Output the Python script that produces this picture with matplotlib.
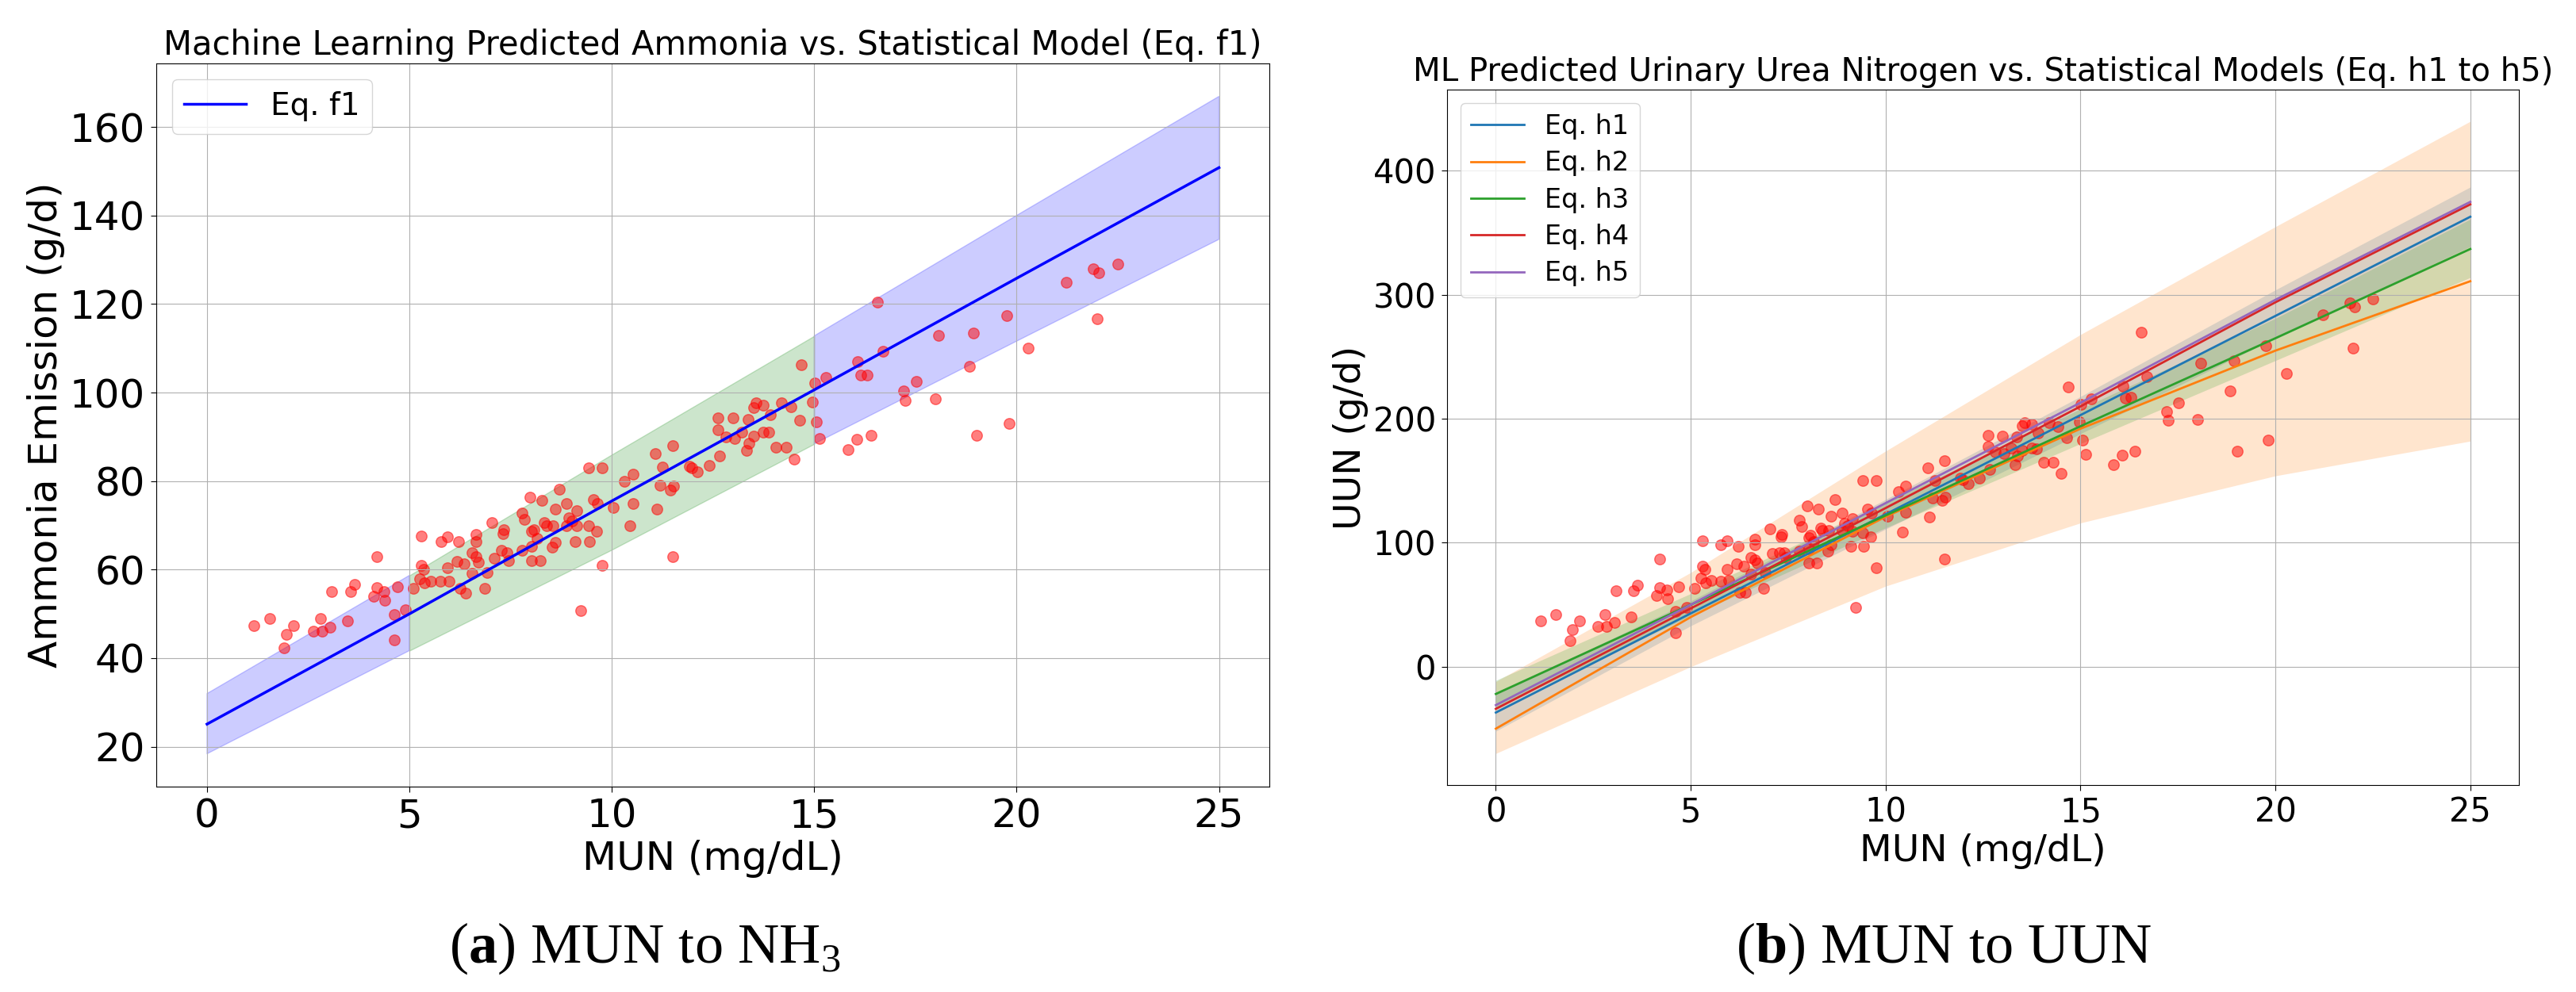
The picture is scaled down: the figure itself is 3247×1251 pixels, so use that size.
import numpy as np
import matplotlib
matplotlib.use('Agg')
import matplotlib.pyplot as plt

plt.rcParams['mathtext.fontset'] = 'custom'
plt.rcParams['mathtext.rm'] = 'Liberation Serif'
plt.rcParams['mathtext.bf'] = 'Liberation Serif:bold'

# MUN values of the samples (mg/dL), shared by both panels
mun = [1.16, 1.54, 1.96, 1.9, 2.14, 2.62, 2.8, 2.84, 3.04, 3.08,
       3.48, 3.54, 3.64, 4.12, 4.2, 4.2, 4.38, 4.4, 4.62, 4.62,
       4.7, 4.9, 5.1, 5.3, 5.3, 5.36, 5.26, 5.38, 5.52, 5.76,
       5.78, 5.94, 5.94, 5.98, 6.18, 6.22, 6.26, 6.36, 6.4, 6.54,
       6.54, 6.64, 6.64, 6.64, 6.7, 6.86, 6.92, 7.04, 7.1, 7.28,
       7.32, 7.34, 7.4, 7.44, 7.78, 7.78, 7.84, 7.98, 8.02, 8.02,
       8.02, 8.08, 8.16, 8.24, 8.28, 8.34, 8.38, 8.52, 8.54, 8.6,
       8.6, 8.7, 8.88, 8.88, 8.94, 9.02, 9.1, 9.14, 9.14, 9.24,
       9.42, 9.42, 9.44, 9.54, 9.62, 9.64, 9.76, 9.76, 10.04, 10.32,
       10.44, 10.52, 10.52, 11.08, 11.12, 11.2, 11.26, 11.44, 11.5, 11.5,
       11.52, 11.92, 11.98, 12.12, 12.4, 12.62, 12.62, 12.66, 12.82, 13.0,
       13.04, 13.22, 13.32, 13.36, 13.38, 13.5, 13.5, 13.56, 13.74, 13.74,
       13.88, 13.92, 14.06, 14.2, 14.3, 14.42, 14.5, 14.64, 14.68, 14.96,
       15.02, 15.06, 15.14, 15.28, 15.84, 16.06, 16.08, 16.16, 16.3, 16.4,
       16.56, 16.7, 17.2, 17.24, 17.52, 18.0, 18.08, 18.84, 18.94, 19.02,
       19.76, 19.82, 20.28, 21.22, 21.9, 22.04, 22.0, 22.5]

# ML predicted ammonia (g/d)
nh3_ml = [47.4, 49.0, 45.3, 42.3, 47.4, 46.0, 49.0, 46.0, 47.0, 55.0,
          48.4, 55.0, 56.6, 53.9, 63.0, 56.0, 55.1, 53.0, 49.9, 44.1,
          56.1, 50.9, 55.7, 67.6, 61.0, 60.1, 58.0, 57.0, 57.4, 57.4,
          66.4, 67.4, 60.4, 57.4, 61.9, 66.3, 55.7, 61.4, 54.6, 63.9,
          59.1, 67.9, 66.4, 62.9, 61.7, 55.7, 59.4, 70.6, 62.6, 64.4,
          68.1, 69.1, 63.9, 62.0, 72.7, 64.3, 71.4, 76.3, 65.3, 62.1,
          68.6, 69.1, 67.1, 62.1, 75.6, 70.6, 70.0, 65.0, 70.0, 66.1,
          73.7, 78.1, 74.9, 69.9, 71.7, 71.0, 66.3, 73.4, 70.0, 50.7,
          82.9, 70.0, 66.3, 75.9, 68.6, 74.9, 82.9, 61.0, 74.1, 79.9,
          69.9, 81.6, 74.9, 86.3, 73.7, 79.0, 83.1, 78.0, 88.0, 63.0,
          78.9, 83.4, 83.0, 82.1, 83.6, 94.3, 91.6, 85.7, 90.0, 94.3,
          89.6, 91.0, 86.9, 93.9, 88.6, 90.1, 96.6, 97.6, 97.1, 91.1,
          91.0, 95.0, 87.6, 97.6, 87.6, 96.7, 84.9, 93.7, 106.3, 97.9,
          102.1, 93.4, 89.7, 103.4, 87.1, 89.4, 106.9, 103.9, 104.0, 90.4,
          120.4, 109.3, 100.4, 98.3, 102.6, 98.6, 112.9, 105.9, 113.4, 90.4,
          117.3, 93.0, 110.1, 124.9, 127.9, 127.0, 116.6, 129.1]

# ML predicted urinary urea nitrogen (g/d)
uun_ml = [36.8, 41.9, 30.2, 21.0, 36.8, 32.7, 41.9, 32.7, 35.8, 61.4,
          40.4, 61.4, 66.0, 57.3, 87.0, 63.9, 61.9, 54.7, 44.5, 27.1,
          64.5, 48.1, 63.4, 101.8, 80.8, 78.8, 71.6, 67.5, 69.6, 69.1,
          98.2, 101.3, 78.8, 69.6, 82.9, 97.2, 59.8, 81.3, 59.8, 88.0,
          74.7, 102.8, 98.2, 86.4, 83.9, 63.4, 76.2, 111.0, 91.6, 92.1,
          104.9, 106.9, 92.1, 88.0, 118.2, 93.1, 113.0, 129.4, 95.1, 83.9,
          104.3, 105.9, 100.8, 83.9, 127.4, 112.0, 110.0, 93.1, 110.0, 98.2,
          121.2, 135.0, 123.8, 110.0, 115.6, 113.6, 97.2, 119.7, 109.5, 47.6,
          149.9, 107.9, 97.2, 127.4, 104.9, 123.8, 149.9, 79.8, 121.7, 141.2,
          108.4, 145.8, 124.3, 160.6, 120.7, 136.1, 150.4, 134.0, 166.2, 87.0,
          136.6, 151.9, 150.9, 147.8, 152.4, 186.7, 178.0, 159.1, 173.4, 186.2,
          171.9, 176.5, 163.2, 185.2, 169.8, 174.4, 194.4, 196.9, 195.9, 176.5,
          176.0, 188.7, 164.7, 196.9, 164.7, 193.9, 156.0, 184.7, 225.6, 197.4,
          211.8, 183.1, 171.4, 215.9, 162.7, 170.8, 226.6, 216.9, 217.4, 173.9,
          269.6, 234.3, 205.6, 198.5, 212.8, 199.5, 245.0, 222.5, 246.5, 173.9,
          258.8, 182.6, 236.3, 283.9, 293.6, 290.5, 256.8, 296.7]

# MUN grid for the statistical models
mun_grid = [0, 5, 10, 15, 20, 25]

# Eq. f1 and its band
f1 = [25.1, 50.0, 75.5, 100.6, 125.8, 150.8]
f1_lo = [18.4, 41.7, 64.5, 88.4, 111.6, 134.6]
f1_hi = [32.0, 58.7, 86.0, 112.8, 140.0, 166.9]

# Eq. h1 to h5 (only h1, h2, h3 show a band)
h1 = [-37, 43, 123, 203, 283, 363]
h1_lo = [-52, 33, 111, 188, 265, 339]
h1_hi = [-22, 53, 135, 218, 304, 387]
h2 = [-50, 40, 121, 192, 255, 311]
h2_lo = [-70, 0, 65, 116, 154, 182]
h2_hi = [-12, 76, 174, 268, 355, 440]
h3 = [-22, 50, 122, 194, 265, 337]
h3_lo = [-33, 41, 112, 180, 247, 314]
h3_hi = [-11, 59, 132, 208, 281, 361]
h4 = [-34, 47, 128, 210, 294, 373]
h5 = [-31, 50, 132, 213, 296, 375]

fig = plt.figure(figsize=(32.48, 12.51), dpi=100)

# ---------------- (a) MUN to NH3 ----------------
ax1 = fig.add_axes([0.0607, 0.2070, 0.4320, 0.7290])
g = np.array(mun_grid)
ax1.fill_between(mun_grid, f1_lo, f1_hi, where=(g <= 5) | (g >= 15), color='blue', alpha=0.2, linewidth=1)
ax1.fill_between(mun_grid, f1_lo, f1_hi, where=(g >= 5) & (g <= 15), color='green', alpha=0.2, linewidth=1)
ax1.plot(mun_grid, f1, color='blue', lw=2.5, label='Eq. f1')
ax1.scatter(mun, nh3_ml, color='red', alpha=0.5, s=95)
ax1.set_title('Machine Learning Predicted Ammonia vs. Statistical Model (Eq. f1)', fontsize=30, pad=8)
ax1.set_xlabel('MUN (mg/dL)', fontsize=36)
ax1.set_ylabel('Ammonia Emission (g/d)', fontsize=36)
ax1.tick_params(labelsize=36, length=5, pad=5)
ax1.grid(True)
ax1.legend(loc='upper left', fontsize=28)

# ---------------- (b) MUN to UUN ----------------
ax2 = fig.add_axes([0.5616, 0.2086, 0.4160, 0.7010])
bands = {'C0': (h1_lo, h1_hi), 'C1': (h2_lo, h2_hi), 'C2': (h3_lo, h3_hi)}
eqs = [('Eq. h1', h1, 'C0'), ('Eq. h2', h2, 'C1'), ('Eq. h3', h3, 'C2'),
       ('Eq. h4', h4, 'C3'), ('Eq. h5', h5, 'C4')]
for name, line, col in eqs:
    ax2.plot(mun_grid, line, color=col, lw=2, label=name)
    if col in bands:
        lo, hi = bands[col]
        ax2.fill_between(mun_grid, lo, hi, color=col, alpha=0.2, linewidth=0)
ax2.scatter(mun, uun_ml, color='red', alpha=0.5, s=95)
ax2.set_title('ML Predicted Urinary Urea Nitrogen vs. Statistical Models (Eq. h1 to h5)', fontsize=29, pad=8)
ax2.set_xlabel('MUN (mg/dL)', fontsize=34)
ax2.set_ylabel('UUN (g/d)', fontsize=34)
ax2.tick_params(labelsize=30, length=5, pad=5)
ax2.grid(True)
ax2.legend(loc='upper left', fontsize=24, labelspacing=0.4)

# captions
fig.text(0.2503, 0.030, r'($\mathbf{a}$) MUN to NH$_3$', fontsize=52,
         family='Liberation Serif', ha='center', va='baseline')
fig.text(0.7543, 0.030, r'($\mathbf{b}$) MUN to UUN', fontsize=52,
         family='Liberation Serif', ha='center', va='baseline')

fig.savefig('out.png', dpi=100)
